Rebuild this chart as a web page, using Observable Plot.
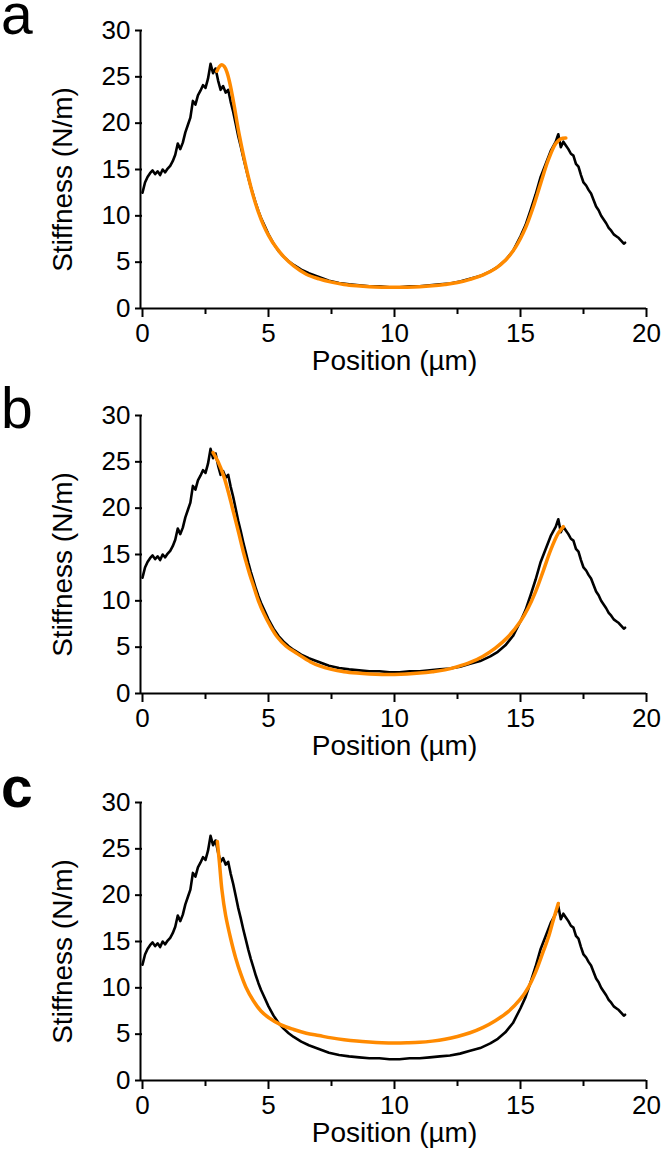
<!DOCTYPE html>
<html>
<head>
<meta charset="utf-8">
<script src="https://cdn.jsdelivr.net/npm/d3@7"></script>
<script src="https://cdn.jsdelivr.net/npm/@observablehq/plot@0.6"></script>
<style>
  html, body { margin: 0; padding: 0; background: #fff; }
  #wrap { position: relative; width: 662px; height: 1151px; overflow: hidden; font-family: "Liberation Sans", Arial, sans-serif; }
  #wrap svg { display: block; }
  .tag { position: absolute; left: 1px; font-size: 57px; line-height: 57px; color: #000; }
</style>
</head>
<body>
<div id="wrap"></div>
<script>
// Measured trace (black), same in all panels
const traceX = [0.0,0.1,0.2,0.3,0.4,0.5,0.6,0.7,0.8,0.9,1.0,1.1,1.2,1.3,1.4,1.5,1.6,1.7,1.8,1.9,2.0,2.1,2.2,2.3,2.4,2.5,2.6,2.7,2.8,2.9,3.0,3.1,3.2,3.3,3.4,3.5,3.6,3.7,3.8,3.9,4.0,4.1,4.2,4.3,4.4,4.5,4.6,4.7,4.8,5.0,5.2,5.4,5.6,5.8,6.0,6.3,6.6,7.0,7.4,7.8,8.2,8.6,9.0,9.4,9.8,10.2,10.6,11.0,11.4,11.8,12.2,12.6,13.0,13.4,13.8,14.1,14.4,14.7,15.0,15.2,15.4,15.6,15.8,16.0,16.2,16.4,16.5,16.6,16.7,16.8,16.9,17.0,17.1,17.2,17.3,17.4,17.5,17.6,17.7,17.8,17.9,18.0,18.1,18.2,18.3,18.4,18.5,18.6,18.7,18.8,18.9,19.0,19.1,19.15];
const traceY = [12.5,13.6,14.2,14.6,14.9,14.5,14.8,14.4,15.0,14.7,15.1,15.4,15.9,16.6,17.8,17.2,17.9,19.0,19.8,20.6,22.4,22.0,23.0,23.5,24.1,23.8,24.8,26.4,25.4,25.9,24.6,23.6,24.0,23.3,23.6,22.3,21.2,19.9,18.6,17.5,16.3,15.2,14.1,13.1,12.2,11.3,10.5,9.8,9.2,8.0,7.0,6.2,5.6,5.1,4.7,4.2,3.8,3.4,3.0,2.75,2.6,2.5,2.4,2.4,2.3,2.3,2.4,2.4,2.5,2.6,2.7,2.9,3.2,3.5,4.0,4.5,5.2,6.2,7.8,9.0,10.6,12.3,14.2,15.6,17.0,18.0,18.8,17.4,18.0,17.6,17.2,16.7,16.5,15.6,15.3,14.4,13.6,13.3,12.8,12.4,11.7,11.0,10.6,10.0,9.6,9.2,8.7,8.4,8.0,7.8,7.6,7.3,7.0,7.1];

// Fit curves (orange)
const fitAX = [2.95,3.05,3.15,3.25,3.35,3.45,3.55,3.65,3.75,3.85,4.0,4.2,4.4,4.6,4.8,5.0,5.3,5.6,6.0,6.5,7.0,7.5,8.0,8.5,9.0,9.5,10.0,10.5,11.0,11.5,12.0,12.5,13.0,13.5,14.0,14.4,14.8,15.2,15.5,15.8,16.1,16.4,16.6,16.8];
const fitAY = [25.6,26.1,26.3,26.1,25.5,24.5,23.2,21.7,20.1,18.6,16.6,14.2,12.1,10.4,9.0,7.9,6.6,5.6,4.6,3.7,3.2,2.85,2.6,2.45,2.35,2.3,2.28,2.3,2.35,2.45,2.6,2.8,3.15,3.6,4.3,5.2,6.6,8.7,10.9,13.5,16.0,17.8,18.3,18.4];

const fitBX = [2.8,3.0,3.23,3.4,3.56,3.7,3.82,4.0,4.09,4.25,4.42,4.6,4.82,5.05,5.35,5.7,6.14,6.67,7.0,7.5,8.0,8.5,9.0,9.5,10.0,10.5,11.0,11.5,12.0,12.5,13.0,13.5,14.0,14.5,15.0,15.3,15.6,15.9,16.2,16.5,16.7];
const fitBY = [26.0,25.0,23.4,21.8,20.1,18.6,17.3,15.3,14.4,12.9,11.5,10.0,8.6,7.4,6.1,5.1,4.3,3.4,3.0,2.6,2.35,2.2,2.1,2.05,2.05,2.1,2.2,2.35,2.55,2.9,3.35,4.0,4.9,6.1,7.8,9.2,11.0,13.2,15.5,17.3,18.0];

const fitCX = [2.97,3.05,3.15,3.3,3.5,3.7,3.9,4.1,4.4,4.7,5.0,5.5,6.0,6.5,7.0,7.5,8.0,8.5,9.0,9.5,10.0,10.5,11.0,11.5,12.0,12.5,13.0,13.5,14.0,14.5,15.0,15.3,15.6,15.9,16.1,16.3,16.5];
const fitCY = [25.8,23.6,20.6,17.8,15.3,13.2,11.5,10.1,8.6,7.5,6.8,6.0,5.5,5.1,4.85,4.6,4.4,4.25,4.15,4.08,4.05,4.07,4.12,4.25,4.45,4.75,5.15,5.7,6.45,7.4,8.8,10.0,11.7,13.9,15.4,17.3,19.1];

const xMajorTicks = [0, 5, 10, 15, 20];
const xMinorTicks = [2.5, 7.5, 12.5, 17.5];
const yTicks = [0, 5, 10, 15, 20, 25, 30];
const panelTags = ["a", "b", "c"];
const xLabel = "Position (µm)";
const yLabel = "Stiffness (N/m)";

const zip = (xs, ys) => xs.map((x, i) => ({x, y: ys[i]}));
const trace = zip(traceX, traceY);
const fits = [zip(fitAX, fitAY), zip(fitBX, fitBY), zip(fitCX, fitCY)];

const layout = [
  {h: 385, top: 30, tagTop: -14, bold: false},
  {h: 386, top: 30, tagTop: 380, bold: false},
  {h: 380, top: 31, tagTop: 759, bold: true}
];

const FONT = "Liberation Sans, Arial, sans-serif";
const wrap = document.getElementById("wrap");

layout.forEach((L, i) => {
  const plot = Plot.plot({
    width: 662,
    height: L.h,
    marginLeft: 142,
    marginRight: 16,
    marginTop: L.top,
    marginBottom: L.h - L.top - 278,
    style: {fontFamily: FONT, fontSize: "26px", color: "#000", background: "transparent", overflow: "visible"},
    x: {domain: [0, 20]},
    y: {domain: [0, 30]},
    marks: [
      Plot.axisX(xMajorTicks, {tickSize: 9, tickPadding: 6, strokeWidth: 2, fontSize: 26, label: null, tickFormat: d => String(d)}),
      Plot.axisX(xMinorTicks, {tickSize: 6, text: null, strokeWidth: 2, label: null}),
      Plot.axisY(yTicks, {tickSize: 7, tickPadding: 5, strokeWidth: 2, fontSize: 26, label: null, tickFormat: d => String(d)}),
      Plot.ruleY([0], {stroke: "#000", strokeWidth: 2}),
      Plot.ruleX([0], {stroke: "#000", strokeWidth: 2, dx: -2}),
      Plot.line(trace, {x: "x", y: "y", stroke: "#000", strokeWidth: 2.6, strokeLinejoin: "round"}),
      Plot.line(fits[i], {x: "x", y: "y", stroke: "#ff8a00", strokeWidth: 3.5, curve: "catmull-rom"}),
      Plot.text([xLabel], {frameAnchor: "bottom", dy: 42, lineAnchor: "top", fontSize: 28, fill: "#000"}),
      Plot.text([yLabel], {frameAnchor: "left", textAnchor: "middle", dx: -79, dy: 10, rotate: -90, fontSize: 28, fill: "#000"})
    ]
  });
  wrap.appendChild(plot);
  const tag = document.createElement("div");
  tag.className = "tag";
  tag.style.top = L.tagTop + "px";
  if (L.bold) tag.style.fontWeight = "bold";
  tag.textContent = panelTags[i];
  wrap.appendChild(tag);
});
</script>
</body>
</html>
